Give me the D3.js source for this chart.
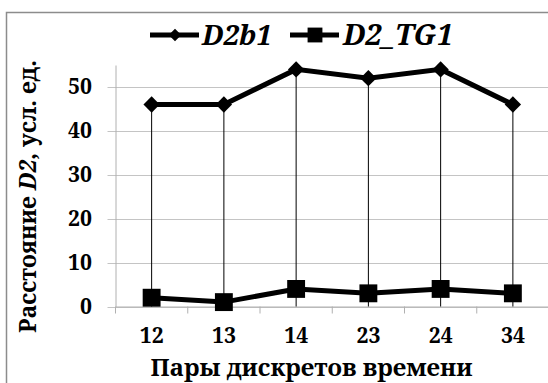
<!DOCTYPE html>
<html>
<head>
<meta charset="utf-8">
<script src="https://cdn.jsdelivr.net/npm/d3@7"></script>
<style>
  body { margin: 0; background: #fff; }
</style>
</head>
<body>
<svg id="chart" width="548" height="383"></svg>
<script>
const categories = ["12", "13", "14", "23", "24", "34"];
const d2b1 = [46, 46, 54, 52, 54, 46];
const d2tg1 = [2, 1, 4, 3, 4, 3];
const yTicks = [0, 10, 20, 30, 40, 50];

const FONT = "'Noto Serif', 'DejaVu Serif', serif";
const svg = d3.select("#chart");

// scale a text's font so that it fills a given width
function fit(sel, width) {
  const len = sel.node().getComputedTextLength();
  const size = parseFloat(sel.style("font-size"));
  const s = size * width / len;
  sel.style("font-size", s + "px");
  return s;
}

// outer chart border
svg.append("rect")
  .attr("x", 6.5).attr("y", 12.5)
  .attr("width", 560).attr("height", 400)
  .attr("fill", "none")
  .attr("stroke", "#8c8c8c")
  .attr("stroke-width", 1.5);

const plotLeft = 115.5, plotRight = 549, plotTop = 65, plotBottom = 306.5;

const x = d3.scaleBand().domain(categories).range([plotLeft, plotRight]);
const y = d3.scaleLinear().domain([0, 55]).range([plotBottom, plotTop]);

// gridlines
svg.append("g")
  .selectAll("line")
  .data(yTicks)
  .enter()
  .append("line")
  .attr("x1", plotLeft - 8).attr("x2", 548)
  .attr("y1", d => Math.round(y(d)) + 0.5)
  .attr("y2", d => Math.round(y(d)) + 0.5)
  .attr("stroke", "#c4c4c4");

// y axis
const yAxis = svg.append("g")
  .attr("transform", `translate(${plotLeft},0)`)
  .call(d3.axisLeft(y).tickValues(yTicks).tickSize(0).tickPadding(23.5));
yAxis.select(".domain").attr("stroke", "#b0b0b0");

// x axis
const xAxis = svg.append("g")
  .attr("transform", `translate(0,${plotBottom})`)
  .call(d3.axisBottom(x).tickSize(0));
xAxis.select(".domain").attr("stroke", "#b0b0b0");
xAxis.selectAll("text").attr("y", 343 - plotBottom).attr("dy", 0);
xAxis.selectAll(".sep")
  .data(d3.range(categories.length + 1))
  .enter()
  .append("line")
  .attr("x1", i => plotLeft + i * x.step())
  .attr("x2", i => plotLeft + i * x.step())
  .attr("y1", 0).attr("y2", 7)
  .attr("stroke", "#b0b0b0");

[yAxis, xAxis].forEach(a => a.attr("font-family", null).attr("font-size", null)
  .selectAll("text")
  .style("font-family", FONT)
  .style("font-weight", "bold")
  .style("font-size", "22px")
  .attr("fill", "#000"));
const tickSize = fit(xAxis.select(".tick text"), 24);
svg.selectAll(".tick text").style("font-size", tickSize + "px");

const cx = (d, i) => x(categories[i]) + x.bandwidth() / 2;

// drop lines
svg.append("g")
  .selectAll("line")
  .data(d2b1)
  .enter()
  .append("line")
  .attr("x1", cx)
  .attr("x2", cx)
  .attr("y1", d => y(d))
  .attr("y2", plotBottom)
  .attr("stroke", "#000")
  .attr("stroke-width", 1);

const line = d3.line().x(cx).y(d => y(d));

svg.append("path").datum(d2b1)
  .attr("d", line).attr("fill", "none")
  .attr("stroke", "#000").attr("stroke-width", 5);
svg.append("path").datum(d2tg1)
  .attr("d", line).attr("fill", "none")
  .attr("stroke", "#000").attr("stroke-width", 5);

const diamond = d3.symbol().type(d3.symbolDiamond2).size(170);
const square = d3.symbol().type(d3.symbolSquare).size(320);

svg.append("g").selectAll("path")
  .data(d2b1).enter().append("path")
  .attr("d", diamond)
  .attr("transform", (d, i) => `translate(${cx(d, i)},${y(d)})`)
  .attr("fill", "#000");
svg.append("g").selectAll("path")
  .data(d2tg1).enter().append("path")
  .attr("d", square)
  .attr("transform", (d, i) => `translate(${cx(d, i)},${y(d)})`)
  .attr("fill", "#000");

// legend
const legend = [
  { name: "D2b1", sym: d3.symbol().type(d3.symbolDiamond2).size(100), x: 150, mx: 175, tx: 202, w: 70 },
  { name: "D2_TG1", sym: d3.symbol().type(d3.symbolSquare).size(220), x: 290, mx: 315, tx: 343, w: 110 }
];
const lg = svg.append("g").selectAll("g").data(legend).enter().append("g");
lg.append("line")
  .attr("x1", d => d.x).attr("x2", d => d.x + 49)
  .attr("y1", 35).attr("y2", 35)
  .attr("stroke", "#000").attr("stroke-width", 5);
lg.append("path")
  .attr("d", d => d.sym())
  .attr("transform", d => `translate(${d.mx},35)`)
  .attr("fill", "#000");
lg.append("text")
  .attr("x", d => d.tx).attr("y", 45)
  .style("font-family", FONT)
  .style("font-weight", "bold")
  .style("font-size", "28px")
  .style("font-style", "italic")
  .text(d => d.name)
  .each(function (d) { fit(d3.select(this), d.w); });

// axis titles
const xt = svg.append("text")
  .attr("x", 311.5).attr("y", 376)
  .attr("text-anchor", "middle")
  .style("font-family", FONT)
  .style("font-weight", "bold")
  .style("font-size", "24px")
  .text("Пары дискретов времени");
fit(xt, 322);

const yt = svg.append("text")
  .attr("transform", "translate(36,196.5) rotate(-90)")
  .attr("text-anchor", "middle")
  .style("font-family", FONT)
  .style("font-weight", "bold")
  .style("font-size", "22px");
yt.append("tspan").text("Расстояние ");
yt.append("tspan").style("font-style", "italic").text("D2");
yt.append("tspan").text(", усл. ед.");
fit(yt, 273);
</script>
</body>
</html>
